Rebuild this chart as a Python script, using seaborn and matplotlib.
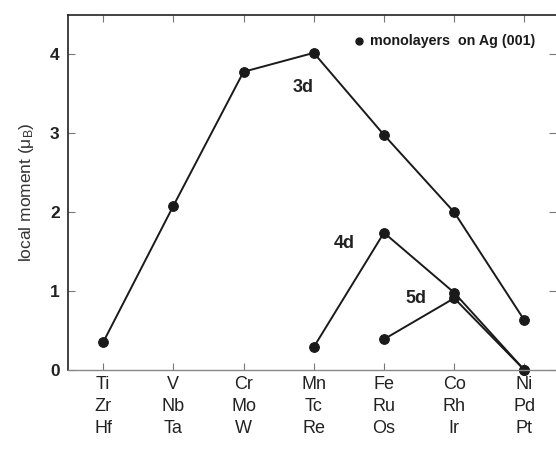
import pandas as pd
import matplotlib.pyplot as plt
import seaborn as sns

# columns of the periodic table (3d / 4d / 5d rows)
row3d = ["Ti", "V", "Cr", "Mn", "Fe", "Co", "Ni"]
row4d = ["Zr", "Nb", "Mo", "Tc", "Ru", "Rh", "Pd"]
row5d = ["Hf", "Ta", "W", "Re", "Os", "Ir", "Pt"]

# local moments (mu_B) of monolayers on Ag(001)
pos_3d = [0, 1, 2, 3, 4, 5, 6]
mom_3d = [0.35, 2.08, 3.78, 4.02, 2.98, 2.00, 0.63]
pos_4d = [3, 4, 5, 6]
mom_4d = [0.29, 1.74, 0.98, 0.0]
pos_5d = [4, 5, 6]
mom_5d = [0.39, 0.91, 0.0]

df = pd.concat([
    pd.DataFrame({"pos": pos_3d, "moment": mom_3d, "series": "3d"}),
    pd.DataFrame({"pos": pos_4d, "moment": mom_4d, "series": "4d"}),
    pd.DataFrame({"pos": pos_5d, "moment": mom_5d, "series": "5d"}),
])

sns.set_style("ticks")
plt.rcParams['font.family'] = ['Liberation Sans', 'DejaVu Sans']

fig = plt.figure(figsize=(5.56, 4.51), dpi=100)
ax = fig.add_axes([68 / 556, 1 - 370 / 451, (556 - 68) / 556, (370 - 15) / 451])

sns.lineplot(data=df, x="pos", y="moment", hue="series",
             palette={"3d": "#1a1a1a", "4d": "#1a1a1a", "5d": "#1a1a1a"},
             marker="o", markersize=7, markeredgecolor="#1a1a1a",
             linewidth=1.4, legend=False, ax=ax, clip_on=False)

ax.set_xlim(-0.5, 6.45)
ax.set_ylim(0, 4.5)
ax.set_xticks(range(7))
ax.set_xticklabels([f"{a}\n{b}\n{c}" for a, b, c in zip(row3d, row4d, row5d)],
                   fontsize=13, color="#222222", linespacing=1.42)
ax.set_yticks([0, 1, 2, 3, 4])
ax.set_yticklabels(["0", "1", "2", "3", "4"], fontsize=12.5,
                   fontweight="bold", color="#222222")
ax.tick_params(axis="both", direction="in", length=5, width=0.8, color="#777777",
               top=True, right=True, pad=6)
ax.tick_params(axis="x", pad=4)
ax.set_xlabel("")
ax.set_ylabel(r"local moment ($\mathregular{\mu_B}$)", fontsize=12.5,
              color="#333333", labelpad=10)

for side in ["left", "top"]:
    ax.spines[side].set_color("#222222")
    ax.spines[side].set_linewidth(1.2)
ax.spines["bottom"].set_color("#888888")
ax.spines["bottom"].set_linewidth(1.0)
ax.spines["right"].set_visible(False)

ax.text(2.7, 3.52, "3d", fontsize=13, fontweight="bold", color="#222222")
ax.text(3.28, 1.55, "4d", fontsize=13, fontweight="bold", color="#222222")
ax.text(4.3, 0.85, "5d", fontsize=13, fontweight="bold", color="#222222")

ax.plot([3.65], [4.17], marker="o", markersize=5, color="#1a1a1a")
ax.text(3.8, 4.17, "monolayers  on Ag (001)", fontsize=10.3, fontweight="bold",
        color="#1a1a1a", va="center")

fig.savefig("out.png", dpi=100)
